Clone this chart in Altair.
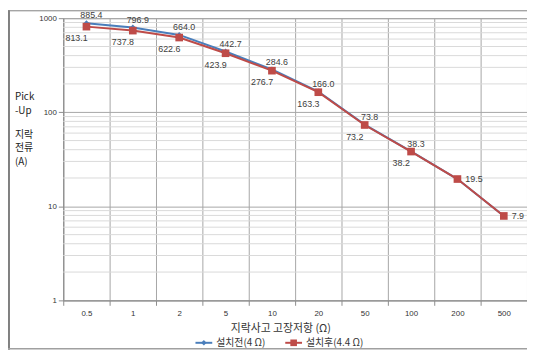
import altair as alt
import pandas as pd

categories = ["0.5", "1", "2", "5", "10", "20", "50", "100", "200", "500"]
before = [885.4, 796.9, 664.0, 442.7, 284.6, 166.0, 73.8, 38.3, 19.5, 7.9]
after = [813.1, 737.8, 622.6, 423.9, 276.7, 163.3, 73.2, 38.2, 19.5, 7.9]
major_ticks = [1, 10, 100, 1000]
minor_ticks = [m * d for d in (1, 10, 100) for m in range(2, 10)]
series_names = ["설치전(4 Ω)", "설치후(4.4 Ω)"]
x_title = "지락사고 고장저항 (Ω)"
y_title_lines = ["Pick", "-Up", "지락", "전류", "(A)"]

BLUE = "#4A7EBB"
RED = "#BE4B48"
KR = "Noto Sans CJK KR"
NUM = "Liberation Sans"

df = pd.DataFrame({"cat": categories, "before": before, "after": after})
minor_df = pd.DataFrame({"value": minor_ticks})
one = pd.DataFrame({"a": [0]})

yscale = alt.Scale(type="log", domain=[1, 1000])
x_enc = alt.X(
    "cat:N", sort=categories,
    scale=alt.Scale(type="band", paddingInner=0, paddingOuter=0),
    axis=alt.Axis(
        title=x_title, labelAngle=0, tickBand="extent", grid=True,
        gridColor="#a6a6a6", domainColor="#8c8c8c", tickColor="#8c8c8c",
        tickSize=5, labelPadding=4, labelFont=NUM, labelFontSize=8,
        labelColor="#333333", titleFont=KR, titleFontSize=11,
        titleFontWeight="normal", titleColor="#333333",
        titleX=220, titleY=29, titleBaseline="middle",
        titleAlign="center",
    ),
)


def yenc(field):
    return alt.Y(
        f"{field}:Q", scale=yscale,
        axis=alt.Axis(
            values=major_ticks, format="d", grid=True, gridColor="#a6a6a6",
            domainColor="#8c8c8c", tickColor="#8c8c8c", tickSize=5,
            labelPadding=2, labelFont=NUM, labelFontSize=8,
            labelColor="#333333", title=None,
        ),
    )


minor = alt.Chart(minor_df).mark_rule(color="#d9d9d9", strokeWidth=1).encode(
    y=yenc("value")
)

base = alt.Chart(df)
blue_line = base.mark_line(color=BLUE, strokeWidth=2).encode(x=x_enc, y=yenc("before"))
blue_pts = base.mark_point(shape="diamond", filled=True, color=BLUE, size=35, opacity=1).encode(
    x=x_enc, y=yenc("before"))
red_line = base.mark_line(color=RED, strokeWidth=2).encode(x=x_enc, y=yenc("after"))
red_pts = base.mark_point(shape="square", filled=True, color=RED, size=60, opacity=1).encode(
    x=x_enc, y=yenc("after"))

blue_lab = base.transform_filter(alt.datum.before != alt.datum.after).mark_text(
    font=NUM, fontSize=9, color="#404040", dx=5, dy=-8
).encode(x=x_enc, y=yenc("before"), text=alt.Text("before:Q", format=".1f"))
red_lab = base.transform_filter(alt.datum.before != alt.datum.after).mark_text(
    font=NUM, fontSize=9, color="#404040", dx=-10, dy=12
).encode(x=x_enc, y=yenc("after"), text=alt.Text("after:Q", format=".1f"))
same_lab = base.transform_filter(alt.datum.before == alt.datum.after).mark_text(
    font=NUM, fontSize=9, color="#404040", dx=8, align="left"
).encode(x=x_enc, y=yenc("after"), text=alt.Text("after:Q", format=".1f"))

# y axis title, one text per line
ytitle = []
for line, yy in zip(y_title_lines, [80, 94, 118, 132, 146]):
    ytitle.append(alt.Chart(one).mark_text(
        text=line, font=KR, fontSize=10, color="#222222", align="left",
        baseline="middle").encode(x=alt.value(-49), y=alt.value(yy)))

# outer frame
frame_col = "#808080"
frame = [
    alt.Chart(one).mark_rule(color=frame_col, strokeWidth=1).encode(
        x=alt.value(-56), x2=alt.value(470), y=alt.value(-7.5)),
    alt.Chart(one).mark_rule(color=frame_col, strokeWidth=2).encode(
        x=alt.value(-55), y=alt.value(-8), y2=alt.value(336)),
    alt.Chart(one).mark_rule(color="#a0a0a0", strokeWidth=1.5).encode(
        x=alt.value(-56), x2=alt.value(470), y=alt.value(335)),
]

# legend
legend_layers = []
for name, col, shape, size, x0 in [
    (series_names[0], BLUE, "diamond", 30, 134),
    (series_names[1], RED, "square", 45, 225),
]:
    ly = 329
    legend_layers.append(alt.Chart(one).mark_rule(color=col, strokeWidth=2).encode(
        x=alt.value(x0), x2=alt.value(x0 + 17), y=alt.value(ly)))
    legend_layers.append(alt.Chart(one).mark_point(
        shape=shape, filled=True, color=col, size=size, opacity=1).encode(
        x=alt.value(x0 + 8.5), y=alt.value(ly)))
    legend_layers.append(alt.Chart(one).mark_text(
        text=name, font=KR, fontSize=10, color="#333333", align="left",
        baseline="middle").encode(x=alt.value(x0 + 21), y=alt.value(ly)))

chart = alt.layer(
    minor, blue_line, red_line, blue_pts, red_pts, blue_lab, red_lab, same_lab,
    *ytitle, *frame, *legend_layers
).properties(
    width=470, height=286,
    padding={"left": 56, "top": 8, "right": 0, "bottom": 50},
    autosize=alt.AutoSizeParams(type="none"),
    background="white",
).configure_view(stroke="#a6a6a6", strokeWidth=1)

chart.save("out.html", embed_options={"renderer": "svg", "actions": False})
